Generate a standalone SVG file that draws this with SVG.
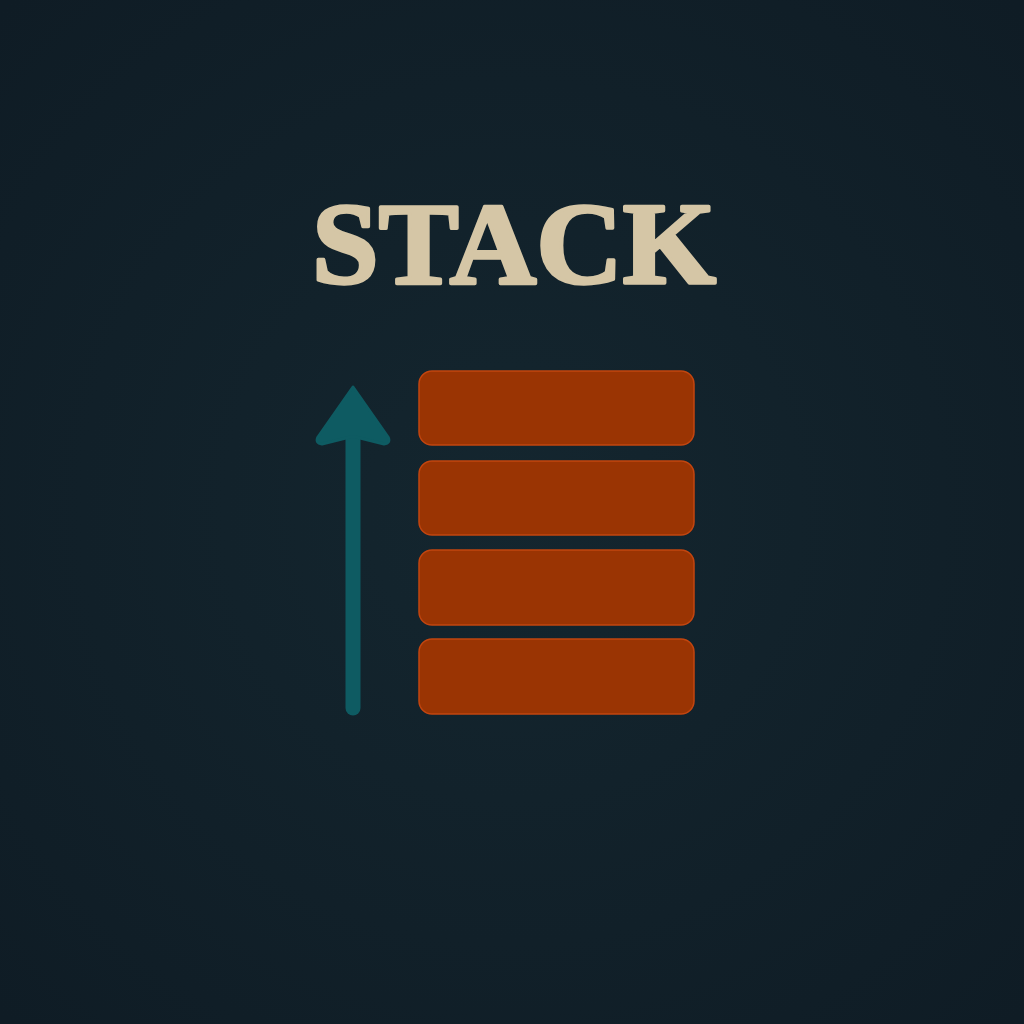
<svg xmlns="http://www.w3.org/2000/svg" width="1024" height="1024" viewBox="0 0 1024 1024">
<defs>
<radialGradient id="bg" cx="50%" cy="50%" r="70%">
<stop offset="0" stop-color="#14262f"/>
<stop offset="1" stop-color="#0f1c25"/>
</radialGradient>
</defs>
<style>
.blk{fill:#9a3403;stroke:#c2450f;stroke-width:1.5}
.title{font-family:"Liberation Serif","DejaVu Serif",serif;font-weight:bold;fill:#d5c6a6;stroke:#d5c6a6;stroke-width:3.5;stroke-linejoin:round}
</style>
<rect width="1024" height="1024" fill="url(#bg)"/>
<g id="title">
<text class="title" x="312" y="283" font-size="116" textLength="404" lengthAdjust="spacingAndGlyphs">STACK</text>
</g>
<g id="stack">
<rect id="block1" class="blk" x="419" y="371" width="275" height="74" rx="13"/>
<rect id="block2" class="blk" x="419" y="461" width="275" height="74" rx="13"/>
<rect id="block3" class="blk" x="419" y="550" width="275" height="75" rx="13"/>
<rect id="block4" class="blk" x="419" y="639" width="275" height="75" rx="13"/>
</g>
<g id="connectors">
<line x1="353" y1="708" x2="353" y2="430" stroke="#0e5b62" stroke-width="15" stroke-linecap="round"/>
<path d="M353,387 L388,437 Q391,443 384,444 L356,437 L350,437 L322,444 Q315,443 318,437 Z" fill="#0e5b62" stroke="#0e5b62" stroke-width="3" stroke-linejoin="round"/>
</g>
</svg>
